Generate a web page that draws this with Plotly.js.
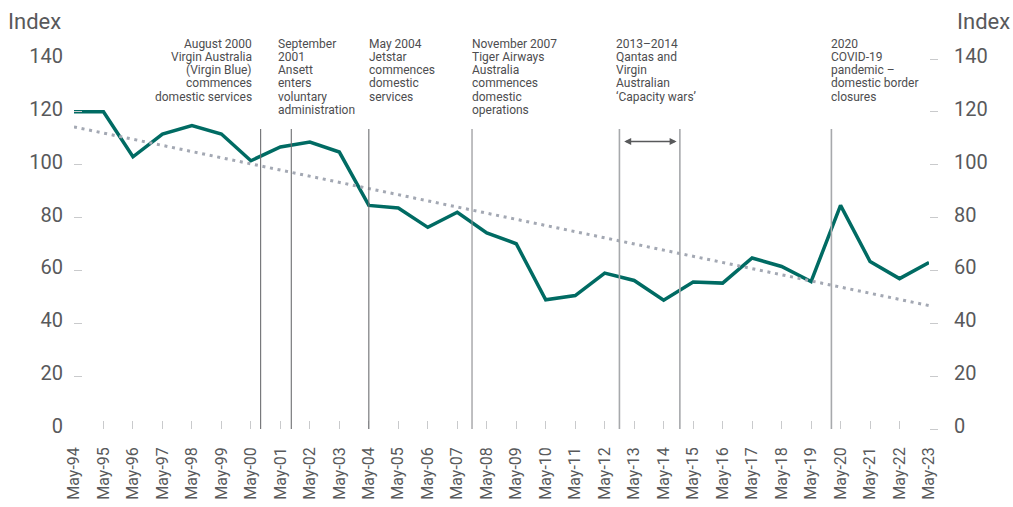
<!DOCTYPE html>
<html>
<head>
<meta charset="utf-8">
<script src="https://cdn.plot.ly/plotly-3.0.1.min.js"></script>
<style>
  html, body { margin: 0; padding: 0; background: #ffffff; }
  #chart { width: 1013px; height: 507px; }
</style>
</head>
<body>
<div id="chart"></div>
<script>
// ---------- data ----------
const categories = ['May-94','May-95','May-96','May-97','May-98','May-99','May-00','May-01','May-02','May-03',
  'May-04','May-05','May-06','May-07','May-08','May-09','May-10','May-11','May-12','May-13',
  'May-14','May-15','May-16','May-17','May-18','May-19','May-20','May-21','May-22','May-23'];
const indexValues = [120, 120, 103, 111.6, 114.8, 111.6, 101.5, 106.7, 108.6, 104.8,
  84.6, 83.6, 76.3, 82, 74.2, 70.1, 48.9, 50.5, 59, 56.2,
  48.7, 55.6, 55.2, 64.7, 61.5, 55.8, 84.6, 63.4, 56.9, 63];
const trendCategories = ['May-94', 'May-23'];
const trendValues = [114.3, 46.7];
const yTickValues = [0, 20, 40, 60, 80, 100, 120, 140];

// event markers (position in years after May-94)
const eventPositions = [6.33, 7.37, 10, 13.5, 18.5, 20.55, 25.69];
const eventLabels = [
  ['August 2000', 'Virgin Australia', '(Virgin Blue)', 'commences', 'domestic services'],
  ['September', '2001', 'Ansett', 'enters', 'voluntary', 'administration'],
  ['May 2004', 'Jetstar', 'commences', 'domestic', 'services'],
  ['November 2007', 'Tiger Airways', 'Australia', 'commences', 'domestic', 'operations'],
  ['2013\u20132014', 'Qantas and', 'Virgin', 'Australian', '\u2018Capacity wars\u2019'],
  null,
  ['2020', 'COVID-19', 'pandemic \u2013', 'domestic border', 'closures']
];
const eventLineTop = 113.5;
const capacityWarsArrow = [18.61, 20.44];
const capacityWarsArrowLevel = 108.8;

// ---------- styles ----------
const FONT = 'Roboto, "Open Sans", Arial, sans-serif';
const TEAL = '#006b63';
const labelStyle = [
  {anchor: 'right', shift: -7},
  {anchor: 'left', shift: -15},
  {anchor: 'left', shift: -2},
  {anchor: 'left', shift: -2},
  {anchor: 'left', shift: -5},
  null,
  {anchor: 'left', shift: -2}
];
const lineColors = ['#6d6e71', '#6d6e71', '#6d6e71', '#8a8b8e', '#a7a9ac', '#a7a9ac', '#a7a9ac'];

const xIdx = categories.map((c, i) => i);
const catIndex = c => categories.indexOf(c);

const traces = [
  {
    x: trendCategories.map(catIndex), y: trendValues, yaxis: 'y2',
    mode: 'lines', type: 'scatter', hoverinfo: 'skip',
    line: {color: '#a3a8b3', width: 3, dash: '3px,4.7px'}
  },
  {
    x: xIdx, y: indexValues, mode: 'lines', type: 'scatter',
    line: {color: TEAL, width: 3.5}
  }
];

const shapes = eventPositions.map((p, i) => ({
  type: 'line', xref: 'x', yref: 'y',
  x0: p, x1: p, y0: 0, y1: eventLineTop,
  line: {color: lineColors[i], width: i >= 4 ? 1.6 : 1.1}
}));

const annotations = [];
eventLabels.forEach((lines, i) => {
  if (!lines) return;
  const st = labelStyle[i];
  lines.forEach((t, k) => {
    annotations.push({
      xref: 'x', yref: 'paper', x: eventPositions[i], y: 1,
      xanchor: st.anchor, yanchor: 'middle', xshift: st.shift,
      yshift: 15.5 - 13.3 * k,
      text: t, showarrow: false,
      font: {family: FONT, size: 12, color: '#4d4d4f'}
    });
  });
});
annotations.push({
  xref: 'x', yref: 'y', axref: 'x', ayref: 'y',
  x: capacityWarsArrow[1], y: capacityWarsArrowLevel,
  ax: capacityWarsArrow[0], ay: capacityWarsArrowLevel,
  text: '', showarrow: true, arrowhead: 2, startarrowhead: 2,
  arrowside: 'end+start', arrowsize: 1, startarrowsize: 1, arrowwidth: 1.4, arrowcolor: '#58595b'
});
annotations.push({
  xref: 'paper', yref: 'paper', x: 0, y: 1, xshift: -68, yshift: 38,
  xanchor: 'left', yanchor: 'middle', text: 'Index', showarrow: false,
  font: {family: FONT, size: 22, color: '#58595b'}
});
annotations.push({
  xref: 'paper', yref: 'paper', x: 1, y: 1, xshift: 83, yshift: 38,
  xanchor: 'right', yanchor: 'middle', text: 'Index', showarrow: false,
  font: {family: FONT, size: 22, color: '#58595b'}
});

const yCommon = {
  range: [0, 140], tickvals: yTickValues, ticktext: yTickValues.map(String),
  showgrid: false, zeroline: false, showline: false,
  ticklen: 8, tickwidth: 1, tickcolor: '#c9cacc',
  tickfont: {family: FONT, size: 20, color: '#58595b'},
  ticklabelshift: -3, fixedrange: true
};

const layout = {
  width: 1013, height: 507,
  margin: {l: 74, r: 84, t: 59, b: 78},
  paper_bgcolor: '#ffffff', plot_bgcolor: '#ffffff',
  showlegend: false,
  xaxis: {
    range: [0, 29], tickvals: xIdx, ticktext: categories, tickangle: -90,
    ticks: 'inside', ticklen: 8, tickwidth: 1, tickcolor: '#c9cacc',
    tickfont: {family: FONT, size: 16, color: '#58595b'},
    showgrid: false, zeroline: false, showline: false,
    ticklabelstandoff: 14, automargin: false
  },
  yaxis: Object.assign({}, yCommon, {ticks: 'inside', ticklabelstandoff: 10, automargin: false}),
  yaxis2: Object.assign({}, yCommon, {ticks: 'outside', side: 'right', overlaying: 'y', ticklabelstandoff: 12, automargin: false}),
  shapes: shapes,
  annotations: annotations
};

Plotly.newPlot('chart', traces, layout, {displayModeBar: false, staticPlot: true});
</script>
</body>
</html>
